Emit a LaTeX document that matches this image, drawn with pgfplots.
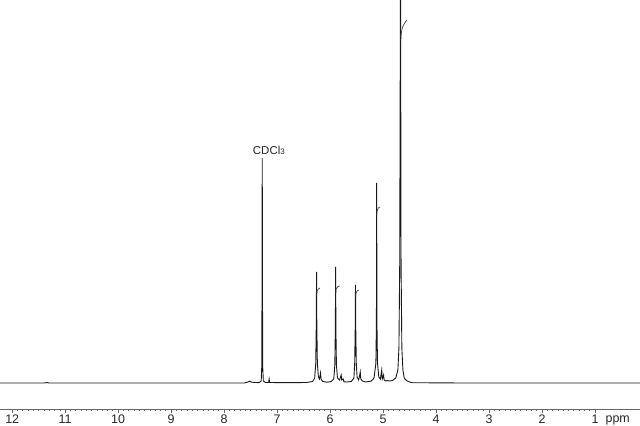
\documentclass[border=0pt]{standalone}
\usepackage{pgfplots}
\pgfplotsset{compat=1.18}
\usepackage{fontspec}
\setmainfont{Liberation Sans}

\begin{document}
\begin{tikzpicture}
\begin{axis}[
    name=spec,
    scale only axis,
    width=640bp, height=409bp,
    x dir=reverse,
    xmin=0.15, xmax=12.23,
    ymin=-26, ymax=383,
    axis x line=bottom,
    axis y line=none,
    x axis line style={-, draw=black!60, line width=1bp},
    xtick={1,...,12},
    minor x tick num=9,
    tick align=outside,
    major tick length=4bp,
    minor tick length=2bp,
    every tick/.style={black!60, line width=0.7bp},
    xticklabel style={font=\fontsize{12.5}{13}\selectfont, text=black!85,
        anchor=base, yshift=-10bp},
    /pgf/number format/assume math mode=true,
    clip mode=individual,
]

% 1H spectrum trace (ppm, intensity in px above baseline)
\addplot[black!90, line width=0.9bp] coordinates {
    (12.23,0) (11.40,0) (11.35,0.4) (11.30,0) (9.10,0) (7.62,0)
    (7.55,1) (7.52,1.8) (7.48,0.8) (7.34,0.3) (7.30,2) (7.29,15)
    (7.285,80) (7.28,225) (7.275,80) (7.27,15) (7.26,2) (7.22,0.5)
    (7.16,0.5) (7.15,4) (7.14,0.5) (6.80,0.3)
    (6.45,0.5) (6.33,1.5) (6.29,5) (6.27,20) (6.26,60) (6.255,111)
    (6.25,60) (6.24,20) (6.22,6) (6.20,4) (6.18,10) (6.17,4)
    (6.14,1.5) (6.05,0.8)
    (5.98,1.5) (5.93,4) (5.91,18) (5.90,55) (5.895,116) (5.89,55)
    (5.88,18) (5.86,5) (5.82,3) (5.79,8) (5.78,3) (5.75,4) (5.74,1.2)
    (5.68,1)
    (5.60,1.5) (5.55,5) (5.535,20) (5.525,55) (5.52,98) (5.515,55)
    (5.505,20) (5.49,6) (5.46,3) (5.43,11) (5.42,4) (5.39,2)
    (5.36,1.5) (5.33,1)
    (5.22,2) (5.17,5) (5.135,20) (5.125,60) (5.12,200) (5.115,60)
    (5.105,20) (5.08,6) (5.05,4) (5.025,13) (5.015,4) (4.99,8)
    (4.98,3) (4.95,2) (4.92,2.5) (4.88,2) (4.82,2.5)
    (4.76,5) (4.72,13) (4.70,35) (4.685,120) (4.67,430) (4.66,120)
    (4.645,35) (4.625,13) (4.60,5) (4.56,2.5) (4.50,1) (4.45,0.3)
    (3.50,0) (2.00,0) (0.15,0)
};

% integral hooks
\addplot[black!75, line width=0.7bp, smooth] coordinates {
    (4.664,343) (4.655,350) (4.63,356) (4.59,360) (4.55,363)};
\addplot[black!75, line width=0.7bp, smooth] coordinates {
    (5.117,168) (5.112,172) (5.09,175) (5.06,176)};
\addplot[black!75, line width=0.7bp, smooth] coordinates {
    (6.250,88) (6.245,92) (6.22,94) (6.19,95)};
\addplot[black!75, line width=0.7bp, smooth] coordinates {
    (5.890,90) (5.885,94) (5.86,96) (5.82,97)};
\addplot[black!75, line width=0.7bp, smooth] coordinates {
    (5.515,86) (5.510,90) (5.49,92) (5.46,93)};

\node[anchor=base, font=\fontsize{11.5}{12}\selectfont, text=black!85]
    at (axis cs:7.155,228) {CDCl{\fontsize{8}{8}\selectfont 3}};
\node[anchor=base, font=\fontsize{12.5}{13}\selectfont, text=black!85]
    at (axis cs:0.57,-26) [yshift=-13bp] {ppm};
\end{axis}
\pgfresetboundingbox
\path[use as bounding box] ([yshift=-17bp]spec.south west) rectangle (spec.north east);
\end{tikzpicture}
\end{document}
